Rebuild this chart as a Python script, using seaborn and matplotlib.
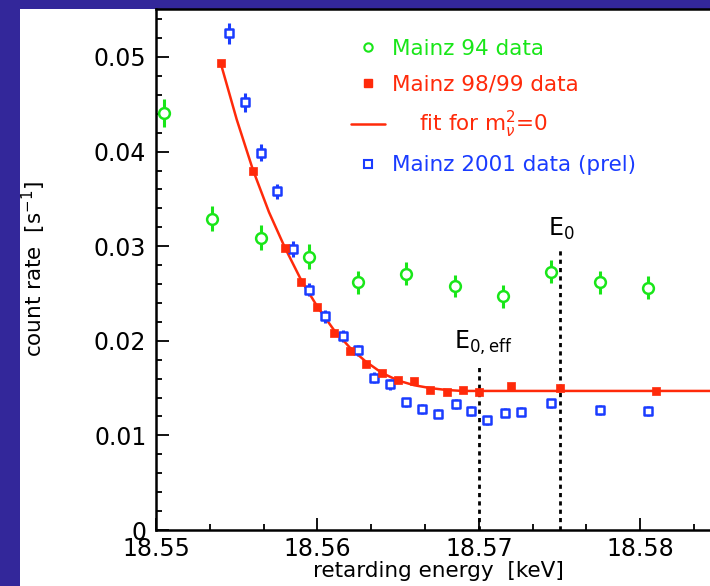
"""Mainz tritium endpoint data: count rate vs retarding energy, 94 / 98-99 / 2001 runs."""

import matplotlib

matplotlib.use("Agg")
import matplotlib.pyplot as plt
import pandas as pd
import seaborn as sns
from matplotlib.lines import Line2D
from matplotlib.patches import Rectangle
from matplotlib.ticker import MultipleLocator

# Mainz 94 data (green open circles)
E_94 = [18.5505, 18.5535, 18.5565, 18.5595, 18.5625, 18.5655, 18.5685,
        18.5715, 18.5745, 18.5775, 18.5805]
R_94 = [0.0441, 0.0329, 0.0309, 0.0289, 0.0262, 0.0271, 0.0258,
        0.0247, 0.0273, 0.0262, 0.0256]
ERR_94 = [0.0015, 0.0013, 0.0013, 0.0013, 0.0012, 0.0012, 0.0012,
          0.0012, 0.0012, 0.0012, 0.0012]

# Mainz 98/99 data (red filled squares)
E_98 = [18.554, 18.556, 18.558, 18.559, 18.560, 18.561, 18.562, 18.563,
        18.564, 18.565, 18.566, 18.567, 18.568, 18.569, 18.570, 18.572,
        18.575, 18.581]
R_98 = [0.0494, 0.0380, 0.0298, 0.0262, 0.0236, 0.0208, 0.0189, 0.0176,
        0.0166, 0.0159, 0.0158, 0.0148, 0.0146, 0.0148, 0.0146, 0.0152,
        0.0150, 0.0147]
ERR_98 = [0.0003] * len(E_98)

# Fit for m_nu^2 = 0 (red line)
E_FIT = [18.5540, 18.5550, 18.5560, 18.5570, 18.5580, 18.5590, 18.5600,
         18.5610, 18.5620, 18.5630, 18.5640, 18.5650, 18.5660, 18.5670,
         18.5680, 18.5690, 18.5700, 18.5850]
R_FIT = [0.0494, 0.0434, 0.0381, 0.0336, 0.0298, 0.0264, 0.0236,
         0.0212, 0.0193, 0.0178, 0.0166, 0.0158, 0.0153, 0.0150,
         0.0148, 0.0147, 0.0147, 0.0147]

# Mainz 2001 data, preliminary (blue open squares)
E_01 = [18.5545, 18.5555, 18.5565, 18.5575, 18.5585, 18.5595, 18.5605,
        18.5616, 18.5625, 18.5635, 18.5645, 18.5655, 18.5665, 18.5675,
        18.5686, 18.5695, 18.5705, 18.5716, 18.5726, 18.5745, 18.5775,
        18.5805]
R_01 = [0.0525, 0.0452, 0.0399, 0.0358, 0.0297, 0.0254, 0.0226,
        0.0205, 0.0190, 0.0161, 0.0154, 0.0135, 0.0128, 0.0123,
        0.0133, 0.0126, 0.0116, 0.0124, 0.0125, 0.0134, 0.0127,
        0.0126]
ERR_01 = [0.0011, 0.0010, 0.0009, 0.0008, 0.0008, 0.0007, 0.0007,
          0.0006, 0.0006, 0.0006, 0.0006, 0.0005, 0.0005, 0.0005,
          0.0005, 0.0005, 0.0005, 0.0005, 0.0005, 0.0005, 0.0005,
          0.0005]

E0 = 18.575
E0_EFF = 18.570

GREEN = "#19E619"
RED = "#FF2A0A"
BLUE = "#1A3CFF"
BG = "#33279A"

W, H = 710, 586


def main():
    sns.set_theme(style="white")
    plt.rcParams["font.family"] = ["DejaVu Sans"]

    fig = plt.figure(figsize=(W / 100, H / 100), dpi=100, facecolor=BG)
    # white page area, dark frame on the left and top
    fig.patches.append(Rectangle((20 / W, 0), 1 - 20 / W, 1 - 8.5 / H,
                                 transform=fig.transFigure, facecolor="white",
                                 edgecolor="none", zorder=-10))

    ax = fig.add_axes([156 / W, 56 / H, 1 - 156 / W, (530 - 8.5) / H])
    ax.set_facecolor("white")

    d94 = pd.DataFrame({"E": E_94, "R": R_94})
    d98 = pd.DataFrame({"E": E_98, "R": R_98})
    d01 = pd.DataFrame({"E": E_01, "R": R_01})
    fit = pd.DataFrame({"E": E_FIT, "R": R_FIT})

    ax.errorbar(E_94, R_94, yerr=ERR_94, fmt="none", ecolor=GREEN,
                elinewidth=2.2, capsize=0, zorder=3)
    ax.errorbar(E_01, R_01, yerr=ERR_01, fmt="none", ecolor=BLUE,
                elinewidth=2.2, capsize=0, zorder=3)
    ax.errorbar(E_98, R_98, yerr=ERR_98, fmt="none", ecolor=RED,
                elinewidth=1.5, capsize=0, zorder=3)

    sns.lineplot(data=fit, x="E", y="R", color=RED, linewidth=1.8,
                 ax=ax, zorder=4)
    sns.scatterplot(data=d94, x="E", y="R", marker="o", s=60,
                    facecolor="white", edgecolor=GREEN, linewidth=1.8,
                    ax=ax, zorder=5)
    sns.scatterplot(data=d01, x="E", y="R", marker="s", s=36,
                    facecolor="white", edgecolor=BLUE, linewidth=1.8,
                    ax=ax, zorder=5)
    sns.scatterplot(data=d98, x="E", y="R", marker="s", s=40,
                    color=RED, edgecolor=RED, linewidth=0.5, ax=ax, zorder=6)

    # endpoint markers
    ax.vlines(E0_EFF, 0, 0.0176, colors="black", linestyles=(0, (1.5, 1.5)),
              linewidth=2.0, zorder=2)
    ax.vlines(E0, 0, 0.0299, colors="black", linestyles=(0, (1.5, 1.5)),
              linewidth=2.0, zorder=2)
    ax.text(E0 + 0.0001, 0.0304, r"E$_\mathregular{0}$", fontsize=17,
            ha="center", va="bottom", color="black")
    ax.text(E0_EFF + 0.0003, 0.0183, r"E$_\mathregular{0,eff}$", fontsize=17,
            ha="center", va="bottom", color="black")

    ax.set_xlim(18.55, 18.55 + 554 / 16140)
    ax.set_ylim(0, (530 - 8.5) / 9460)

    ax.xaxis.set_major_locator(MultipleLocator(0.01))
    ax.xaxis.set_minor_locator(MultipleLocator(0.01 / 3))
    ax.yaxis.set_major_locator(MultipleLocator(0.01))
    ax.yaxis.set_minor_locator(MultipleLocator(0.002))
    ax.xaxis.set_major_formatter(lambda v, p: f"{v:.2f}")
    ax.yaxis.set_major_formatter(lambda v, p: "0" if abs(v) < 1e-9 else f"{v:.2f}")

    ax.tick_params(which="both", direction="in", color="black", width=1.3,
                   labelsize=17, labelcolor="black", top=False, right=False,
                   bottom=True, left=True)
    ax.tick_params(which="major", length=9)
    ax.tick_params(which="minor", length=4.5)
    ax.tick_params(axis="y", pad=7)
    ax.tick_params(axis="x", pad=5)

    for side in ("left", "bottom", "top"):
        ax.spines[side].set_color("black")
        ax.spines[side].set_linewidth(1.8)
        ax.spines[side].set_visible(True)
    ax.spines["right"].set_visible(False)

    ax.set_xlabel("retarding energy  [keV]", fontsize=15.5, color="black")
    ax.set_ylabel(r"count rate  [s$^\mathregular{-1}$]", fontsize=15.5,
                  color="black")
    ax.xaxis.set_label_coords((438 - 156) / 554, -0.06)
    ax.yaxis.set_label_coords((48 - 156) / 554, 0.5)

    handles = [
        Line2D([], [], linestyle="none", marker="o", markersize=6,
               markerfacecolor="white", markeredgecolor=GREEN, markeredgewidth=1.5),
        Line2D([], [], linestyle="none", marker="s", markersize=6,
               markerfacecolor=RED, markeredgecolor=RED),
        Line2D([], [], color=RED, linewidth=1.8),
        Line2D([], [], linestyle="none", marker="s", markersize=6,
               markerfacecolor="white", markeredgecolor=BLUE, markeredgewidth=1.5),
    ]
    labels = ["Mainz 94 data", "Mainz 98/99 data",
              r"    fit for m$_\nu^\mathregular{2}$=0",
              "Mainz 2001 data (prel)"]
    ax.legend(handles, labels, loc="upper left", bbox_to_anchor=(0.336, 0.958),
              frameon=False, fontsize=15.5, handlelength=1.6, handletextpad=0.3,
              labelspacing=0.7, labelcolor=[GREEN, RED, RED, BLUE],
              borderaxespad=0)

    fig.savefig("out.png", dpi=100, facecolor=BG)


if __name__ == "__main__":
    main()
